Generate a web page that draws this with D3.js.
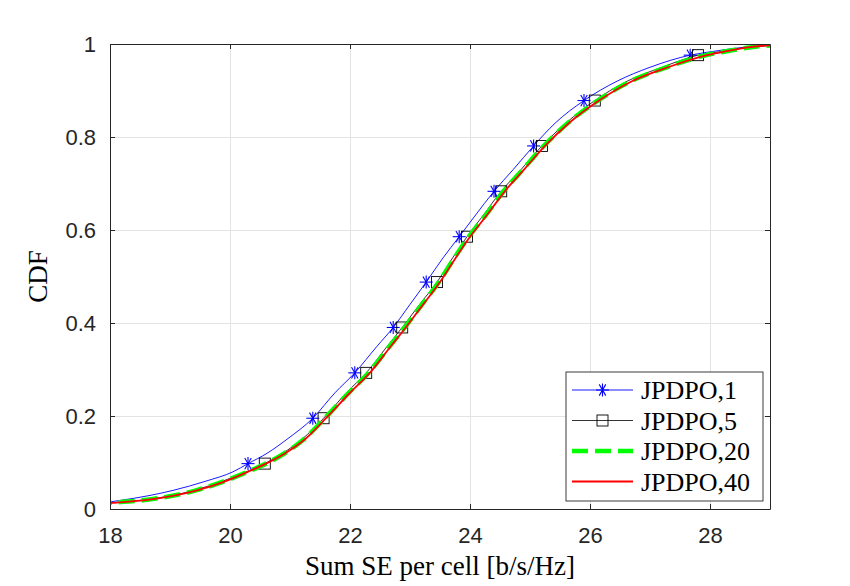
<!DOCTYPE html>
<html>
<head>
<meta charset="utf-8">
<script src="https://cdn.jsdelivr.net/npm/d3@7"></script>
<style>
  body { margin: 0; background: #fff; }
  .tick text { font-family: "Liberation Sans", Arial, sans-serif; font-size: 22px; fill: #262626; }
  .lbl { font-family: "Liberation Serif", "Times New Roman", serif; fill: #000; }
</style>
</head>
<body>
<div id="chart"></div>
<script>
// CDF levels shared by every curve (markers sit on every ~0.0976 step)
const cdfLevels = [0.008, 0.013, 0.02, 0.04, 0.06, 0.08, 0.0976, 0.12, 0.15, 0.1952, 0.25, 0.2928,
  0.35, 0.3904, 0.44, 0.488, 0.54, 0.5856, 0.63, 0.6832, 0.73, 0.7808, 0.83, 0.8784, 0.92, 0.95,
  0.976, 0.985, 0.992, 0.997, 0.999];
const markerIdx = [6, 9, 11, 13, 15, 17, 19, 21, 23, 26];

// Sum SE [b/s/Hz] reached at each CDF level
const jpdpo1 = [17.4, 17.85, 18.25, 19.05, 19.6, 20.05, 20.3, 20.62, 20.95, 21.38, 21.75, 22.08,
  22.45, 22.72, 23.0, 23.27, 23.55, 23.82, 24.08, 24.4, 24.72, 25.06, 25.42, 25.9, 26.45, 27.0,
  27.67, 28.1, 28.5, 29.0, 29.6];
const jpdpo5 = [17.4, 17.98, 18.6, 19.4, 19.88, 20.27, 20.58, 20.88, 21.2, 21.56, 21.94, 22.27,
  22.62, 22.87, 23.16, 23.45, 23.71, 23.95, 24.21, 24.52, 24.85, 25.2, 25.6, 26.08, 26.62, 27.2,
  27.8, 28.25, 28.58, 29.0, 29.6];
const jpdpo20 = [17.38, 17.97, 18.62, 19.43, 19.91, 20.29, 20.6, 20.91, 21.23, 21.58, 21.98, 22.31,
  22.66, 22.91, 23.2, 23.48, 23.74, 23.98, 24.25, 24.56, 24.88, 25.23, 25.63, 26.13, 26.68, 27.28,
  27.93, 28.3, 28.62, 29.02, 29.6];
const jpdpo40 = [17.4, 18.0, 18.65, 19.45, 19.93, 20.3, 20.6, 20.92, 21.25, 21.6, 22.0, 22.33,
  22.68, 22.93, 23.22, 23.5, 23.76, 24.0, 24.27, 24.58, 24.9, 25.25, 25.65, 26.15, 26.7, 27.3,
  27.95, 28.3, 28.6, 29.0, 29.6];

const xTicks = [18, 20, 22, 24, 26, 28];
const yTicks = [0, 0.2, 0.4, 0.6, 0.8, 1];

const series = [
  {name: "JPDPO,1", x: jpdpo1, color: "#0000ff", width: 0.9, dash: null, marker: "star"},
  {name: "JPDPO,5", x: jpdpo5, color: "#000000", width: 0.8, dash: null, marker: "square"},
  {name: "JPDPO,20", x: jpdpo20, color: "#00ff00", width: 4.6, dash: "16,7", marker: null},
  {name: "JPDPO,40", x: jpdpo40, color: "#ff0000", width: 1.8, dash: null, marker: null}
];

const margin = {top: 44, right: 80, bottom: 77, left: 110};
const W = 850, H = 586;
const width = W - margin.left - margin.right;
const height = H - margin.top - margin.bottom;

const svg = d3.select("#chart").append("svg")
  .attr("width", W).attr("height", H);

const g = svg.append("g").attr("transform", `translate(${margin.left},${margin.top})`);

const x = d3.scaleLinear().domain([18, 29]).range([0, width]);
const y = d3.scaleLinear().domain([0, 1]).range([height, 0]);

// grid
g.append("g").attr("transform", `translate(0,${height})`)
  .call(d3.axisBottom(x).tickValues(xTicks).tickSize(-height).tickFormat(""))
  .call(a => a.select(".domain").remove())
  .selectAll("line").attr("stroke", "#e3e3e3");
g.append("g")
  .call(d3.axisLeft(y).tickValues(yTicks).tickSize(-width).tickFormat(""))
  .call(a => a.select(".domain").remove())
  .selectAll("line").attr("stroke", "#e3e3e3");

// curves
g.append("clipPath").attr("id", "clip")
  .append("rect").attr("width", width).attr("height", height);
const plot = g.append("g").attr("clip-path", "url(#clip)");

const line = d3.line()
  .x(d => x(d[0])).y(d => y(d[1]))
  .curve(d3.curveMonotoneX);

function drawMarker(sel, type, color, cx, cy) {
  if (type === "star") {
    const r = 6.5;
    const p = sel.append("g").attr("transform", `translate(${cx},${cy})`)
      .attr("stroke", color).attr("stroke-width", 1.1);
    [0, 60, 120, 90].forEach(a => {
      const t = a * Math.PI / 180;
      p.append("line")
        .attr("x1", -r * Math.cos(t)).attr("y1", -r * Math.sin(t))
        .attr("x2", r * Math.cos(t)).attr("y2", r * Math.sin(t));
    });
  } else if (type === "square") {
    sel.append("rect")
      .attr("x", cx - 5.5).attr("y", cy - 5.5)
      .attr("width", 11).attr("height", 11)
      .attr("fill", "none").attr("stroke", color).attr("stroke-width", 0.9);
  }
}

series.forEach(s => {
  const pts = s.x.map((v, i) => [v, cdfLevels[i]]);
  plot.append("path")
    .datum(pts)
    .attr("d", line)
    .attr("fill", "none")
    .attr("stroke", s.color)
    .attr("stroke-width", s.width)
    .attr("stroke-dasharray", s.dash);
  if (s.marker) {
    markerIdx.forEach(i => drawMarker(plot, s.marker, s.color, x(s.x[i]), y(cdfLevels[i])));
  }
});

// axes with inward ticks on all four sides
const axisColor = "#262626";
function styleAxis(a) {
  a.select(".domain").attr("stroke", axisColor);
  a.selectAll(".tick line").attr("stroke", axisColor);
}
g.append("g").attr("transform", `translate(0,${height})`)
  .call(d3.axisBottom(x).tickValues(xTicks).tickSizeInner(-5).tickSizeOuter(0).tickPadding(18)
    .tickFormat(d3.format("d")))
  .call(styleAxis);
g.append("g")
  .call(d3.axisLeft(y).tickValues(yTicks).tickSizeInner(-5).tickSizeOuter(0).tickPadding(14)
    .tickFormat(d => d === 0 || d === 1 ? d : d.toFixed(1)))
  .call(styleAxis)
  .selectAll("text").attr("dy", "0.35em");
g.append("g")
  .call(d3.axisTop(x).tickValues(xTicks).tickSizeInner(-5).tickSizeOuter(0).tickFormat(""))
  .call(styleAxis);
g.append("g").attr("transform", `translate(${width},0)`)
  .call(d3.axisRight(y).tickValues(yTicks).tickSizeInner(-5).tickSizeOuter(0).tickFormat(""))
  .call(styleAxis);

// axis labels
svg.append("text").attr("class", "lbl")
  .attr("x", margin.left + width / 2).attr("y", 575)
  .attr("text-anchor", "middle").attr("font-size", 27)
  .text("Sum SE per cell [b/s/Hz]");
svg.append("text").attr("class", "lbl")
  .attr("transform", `translate(47,${margin.top + height / 2}) rotate(-90)`)
  .attr("text-anchor", "middle").attr("font-size", 27)
  .text("CDF");

// legend
const leg = svg.append("g").attr("transform", "translate(566,372)");
leg.append("rect").attr("width", 197).attr("height", 129)
  .attr("fill", "#fff").attr("stroke", axisColor).attr("stroke-width", 0.9);
series.forEach((s, i) => {
  const ly = 18 + i * 30.5;
  leg.append("line")
    .attr("x1", 6).attr("x2", 67).attr("y1", ly).attr("y2", ly)
    .attr("stroke", s.color).attr("stroke-width", s.width)
    .attr("stroke-dasharray", s.dash);
  if (s.marker) drawMarker(leg, s.marker, s.color, 36.5, ly);
  leg.append("text").attr("class", "lbl")
    .attr("x", 75).attr("y", ly + 9).attr("font-size", 26)
    .text(s.name);
});
</script>
</body>
</html>
